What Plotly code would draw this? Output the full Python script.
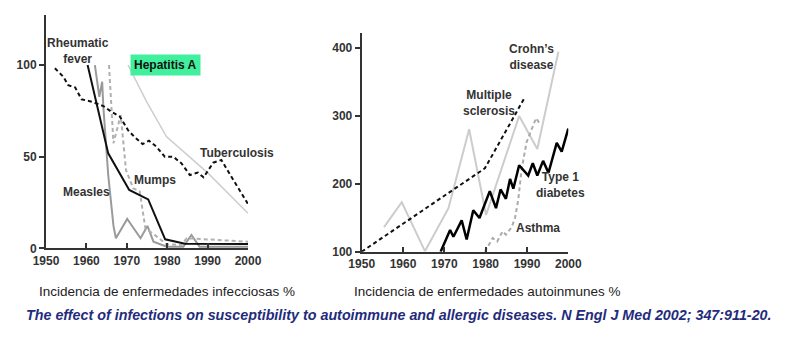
import plotly.graph_objects as go

# ---------------- data: infectious diseases (left) ----------------
tb_year = [1952.2, 1954.3, 1955.5, 1957.2, 1958.8, 1961.3, 1964.2, 1966.2, 1968.3, 1970.3, 1972.0,
           1973.9, 1975.5, 1977.3, 1979.4, 1981.5, 1983.5, 1985.6, 1987.6, 1989.0, 1991.4, 1993.4,
           1995.9, 2000.0]
tb_val = [98.2, 93.6, 89.0, 87.8, 81.3, 80.0, 77.6, 74.5, 71.8, 64.5, 60.5,
          56.9, 58.7, 55.5, 50.0, 50.0, 46.4, 40.0, 41.3, 38.7, 46.7, 48.2,
          39.0, 24.2]

hep_year = [1970.3, 1974.9, 1979.8, 1985.0, 1990.1, 2000.0]
hep_val = [100.0, 80.0, 61.0, 51.0, 41.0, 19.1]

rf_year = [1960.3, 1965.4, 1970.6, 1975.3, 1979.5, 1984.4, 2000.0]
rf_val = [100.0, 51.8, 31.8, 26.7, 4.9, 2.5, 2.3]

measles_year = [1962.1, 1963.2, 1963.9, 1964.2, 1965.4, 1966.7, 1967.3, 1970.1, 1973.4, 1975.1,
                1976.6, 1979.9, 1984.0, 1986.0, 1988.0, 2000.0]
measles_val = [100.0, 82.7, 90.9, 77.0, 40.0, 12.2, 5.5, 16.0, 5.5, 12.2,
               3.6, 0.9, 0.9, 7.3, 0.9, 0.9]

mumps_year = [1965.6, 1966.7, 1968.5, 1969.8, 1971.6, 1973.2, 1974.6, 1976.9, 1979.8, 1983.5,
              1984.8, 2000.0]
mumps_val = [100.0, 57.3, 72.7, 42.7, 32.7, 31.0, 10.9, 7.3, 2.2, 1.8,
             5.5, 3.6]

# ---------------- data: autoimmune diseases (right) ----------------
ms_year = [1950.0, 1979.8, 1989.3]
ms_val = [100.0, 222.5, 325.0]

crohn_year = [1955.4, 1959.7, 1965.3, 1971.0, 1976.0, 1980.1, 1988.1, 1992.5, 1997.6]
crohn_val = [136.2, 172.7, 100.8, 164.0, 280.0, 154.0, 299.4, 251.0, 394.0]

t1d_year = [1969.1, 1971.4, 1972.2, 1974.2, 1975.4, 1977.0, 1978.5, 1981.0, 1982.5, 1983.6,
            1984.9, 1985.9, 1986.7, 1988.1, 1990.3, 1991.4, 1992.5, 1993.9, 1995.2, 1997.2,
            1998.4, 2000.0]
t1d_val = [100.0, 132.0, 122.0, 146.0, 118.0, 161.0, 149.5, 189.0, 164.0, 191.5,
           177.7, 207.0, 192.6, 227.0, 212.0, 230.0, 212.0, 233.5, 216.0, 260.0,
           247.0, 281.0]

asthma_year = [1979.8, 1981.7, 1982.8, 1984.1, 1984.9, 1986.3, 1987.1, 1987.9, 1988.7, 1989.9,
               1992.2, 1993.1]
asthma_val = [100.0, 120.0, 115.0, 130.0, 125.0, 136.0, 149.5, 176.7, 221.0, 261.0,
              296.4, 288.0]

year_ticks = [1950, 1960, 1970, 1980, 1990, 2000]
left_ticks = [0, 50, 100]
right_ticks = [100, 200, 300, 400]

title_left = "Incidencia de enfermedades infecciosas %"
title_right = "Incidencia de enfermedades autoinmunes %"
citation = ("The effect of infections on susceptibility to autoimmune and allergic diseases. "
            "N Engl J Med 2002; 347:911-20.")

W, H = 802, 349
FONT = "Liberation Sans, Arial, sans-serif"
DASH = "4px,3px"

fig = go.Figure()


def line(x, y, color, width, dash=None, axis="1"):
    fig.add_trace(go.Scatter(
        x=x, y=y, mode="lines",
        line=dict(color=color, width=width, dash=dash),
        xaxis="x" if axis == "1" else "x2",
        yaxis="y" if axis == "1" else "y2",
        hoverinfo="skip", showlegend=False))


# left chart
line(hep_year, hep_val, "#cdcdcd", 1.5)
line(measles_year, measles_val, "#9a9a9a", 2)
line(mumps_year, mumps_val, "#b0b0b0", 2, DASH)
line(rf_year, rf_val, "#111111", 2)
line(tb_year, tb_val, "#111111", 2, DASH)
# right chart
line(crohn_year, crohn_val, "#cccccc", 2, axis="2")
line(asthma_year, asthma_val, "#ababab", 2, DASH, axis="2")
line(ms_year, ms_val, "#111111", 2, DASH, axis="2")
line(t1d_year, t1d_val, "#000000", 2.5, axis="2")

axis_common = dict(showgrid=False, zeroline=False, showline=True, linecolor="#333333",
                   linewidth=2, ticklen=5, tickwidth=1.5, tickcolor="#333333", automargin=False,
                   tickfont=dict(family=FONT, size=12, color="#333333", weight="bold"))

fig.update_layout(
    template="none",
    width=W, height=H, margin=dict(l=0, r=0, t=0, b=0, pad=0),
    paper_bgcolor="white", plot_bgcolor="white", showlegend=False,
    xaxis=dict(domain=[46 / W, 248 / W], range=[1950, 2000], tickvals=year_ticks,
               ticks="inside", anchor="y", **axis_common),
    yaxis=dict(domain=[1 - 248.3 / H, 1 - 15 / H], range=[0, 127.3], tickvals=left_ticks,
               ticks="outside", anchor="x", **axis_common),
    xaxis2=dict(domain=[361.7 / W, 568.3 / W], range=[1950, 2000], tickvals=year_ticks,
                ticks="inside", anchor="y2", **axis_common),
    yaxis2=dict(domain=[1 - 251.7 / H, 1 - 33.3 / H], range=[100, 421], tickvals=right_ticks,
                ticks="outside", anchor="x2", **axis_common),
)

lab_font = dict(family=FONT, size=12, color="#333333", weight="bold")


def label(text, x, y, axis="1", **kw):
    fig.add_annotation(text=text, x=x, y=y, xref="x" if axis == "1" else "x2",
                       yref="y" if axis == "1" else "y2", showarrow=False,
                       font=kw.pop("font", lab_font), **kw)


label("Rheumatic<br>fever", 1957.9, 107.6)
label("Hepatitis A", 1979.6, 99.8, bgcolor="#40f09c", borderpad=3,
      font=dict(family=FONT, size=12, color="#111111", weight="bold"))
label("Tuberculosis", 1997.3, 52)
label("Mumps", 1977.0, 37.3)
label("Measles", 1959.9, 30.7)
label("Crohn’s<br>disease", 1991.0, 386, axis="2")
label("Multiple<br>sclerosis", 1980.8, 319, axis="2")
label("Type 1<br>diabetes", 1998.2, 197.5, axis="2")
label("Asthma", 1992.7, 135, axis="2")

fig.add_annotation(text=title_left, x=37 / W, y=1 - 291 / H, xref="paper", yref="paper",
                   xanchor="left", yanchor="middle", showarrow=False,
                   font=dict(family=FONT, size=13.5, color="#222222"))
fig.add_annotation(text=title_right, x=352 / W, y=1 - 291 / H, xref="paper", yref="paper",
                   xanchor="left", yanchor="middle", showarrow=False,
                   font=dict(family=FONT, size=13.5, color="#222222"))
fig.add_annotation(text="<b><i>" + citation + "</i></b>", x=24 / W, y=1 - 315 / H,
                   xref="paper", yref="paper", xanchor="left", yanchor="middle",
                   showarrow=False, font=dict(family=FONT, size=14.3, color="#1f2c7c"))

fig.write_html("out.html")
